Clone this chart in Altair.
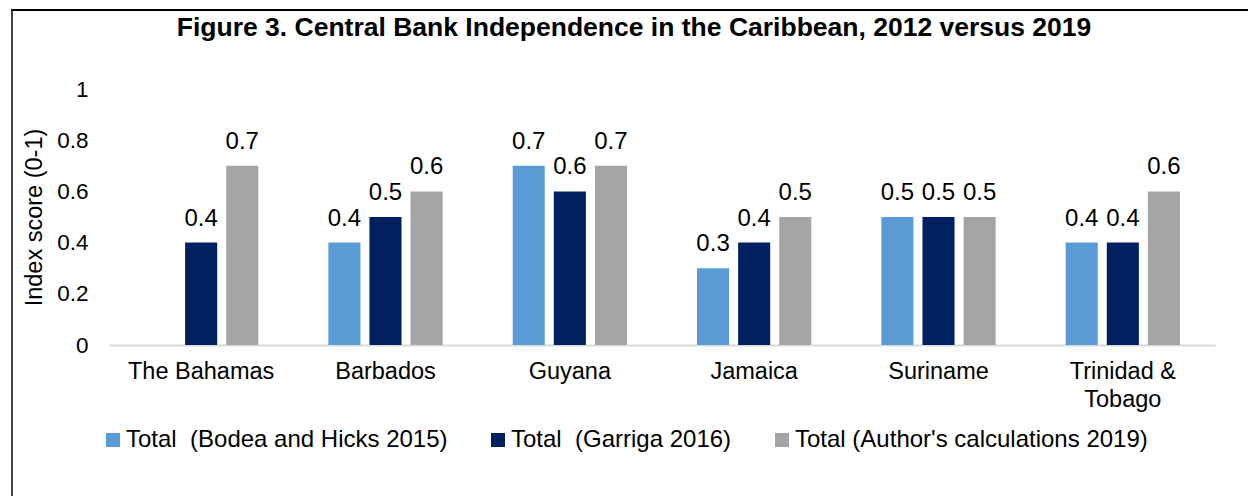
import altair as alt
import pandas as pd

countries = ["The Bahamas", "Barbados", "Guyana", "Jamaica", "Suriname", "Trinidad & Tobago"]
series = [
    "Total\u00a0 (Bodea and Hicks 2015)",
    "Total\u00a0 (Garriga 2016)",
    "Total (Author's calculations 2019)",
]
bodea = [None, 0.4, 0.7, 0.3, 0.5, 0.4]
garriga = [0.4, 0.5, 0.6, 0.4, 0.5, 0.4]
author = [0.7, 0.6, 0.7, 0.5, 0.5, 0.6]
colors = ["#5B9BD5", "#002060", "#A5A5A5"]
title_text = "Figure 3. Central Bank Independence in the Caribbean, 2012 versus 2019"

rows = []
for vals, s in zip([bodea, garriga, author], series):
    for c, v in zip(countries, vals):
        rows.append({"country": c, "series": s, "value": v})
df = pd.DataFrame(rows)

FONT = "Liberation Sans"

x = alt.X("country:N", sort=countries,
          scale=alt.Scale(paddingInner=0.38, paddingOuter=0.19),
          axis=alt.Axis(title=None, labelAngle=0, ticks=False, labelPadding=14,
                        labelFontSize=23.5, labelFont=FONT, labelColor="#000000",
                        labelLineHeight=28,
                        labelExpr="datum.label == 'Trinidad & Tobago' ? ['Trinidad &', 'Tobago'] : datum.label",
                        domainColor="#D9D9D9", domainWidth=2))
xo = alt.XOffset("series:N", sort=series,
                 scale=alt.Scale(domain=series, paddingInner=0.22, paddingOuter=0))
y = alt.Y("value:Q", scale=alt.Scale(domain=[0, 1]),
          axis=alt.Axis(title="Index score (0-1)", values=[0, 0.2, 0.4, 0.6, 0.8, 1],
                        format="~g", grid=False, domain=False, ticks=False,
                        labelPadding=21, labelFontSize=22.5, labelFont=FONT,
                        labelColor="#000000", titleFontSize=23.5, titleFont=FONT,
                        titleFontWeight="normal", titleColor="#000000",
                        titlePadding=10))
color = alt.Color("series:N", sort=series,
                  scale=alt.Scale(domain=series, range=colors),
                  legend=alt.Legend(title=None, orient="none", direction="horizontal",
                                    columns=3, legendX=-8, legendY=339,
                                    symbolType="square", symbolSize=196,
                                    symbolStrokeWidth=0, labelFontSize=24,
                                    labelFont=FONT, labelColor="#000000",
                                    labelLimit=600,
                                    labelOffset=1, columnPadding=38))

bars = alt.Chart(df).mark_bar().encode(x=x, xOffset=xo, y=y, color=color)
labels = alt.Chart(df).mark_text(baseline="alphabetic", dy=-17, fontSize=24,
                                 font=FONT, color="#000000").encode(
    x=x, xOffset=xo, y=y, text=alt.Text("value:Q", format=".1f"))

one = pd.DataFrame({"t": [title_text]})
title = alt.Chart(one).mark_text(fontSize=26.5, fontWeight="bold", font=FONT,
                                 color="#000000", baseline="middle").encode(
    text="t:N", x=alt.value(634 - 109), y=alt.value(28 - 89))
top_line = alt.Chart(one).mark_rule(color="#000000", strokeWidth=2).encode(
    x=alt.value(11 - 109), x2=alt.value(1248 - 109), y=alt.value(10 - 89))
left_line = alt.Chart(one).mark_rule(color="#000000", strokeWidth=1.5).encode(
    x=alt.value(12 - 109), y=alt.value(10 - 89), y2=alt.value(496 - 89))

chart = alt.layer(bars, labels, title, top_line, left_line).properties(
    width=1106, height=256,
    autosize=alt.AutoSizeParams(type="none"),
    padding={"left": 109, "top": 89, "right": 33, "bottom": 151},
    background="#ffffff",
).configure_view(stroke=None)

chart.save("out.html", embed_options={"renderer": "svg", "actions": False})
